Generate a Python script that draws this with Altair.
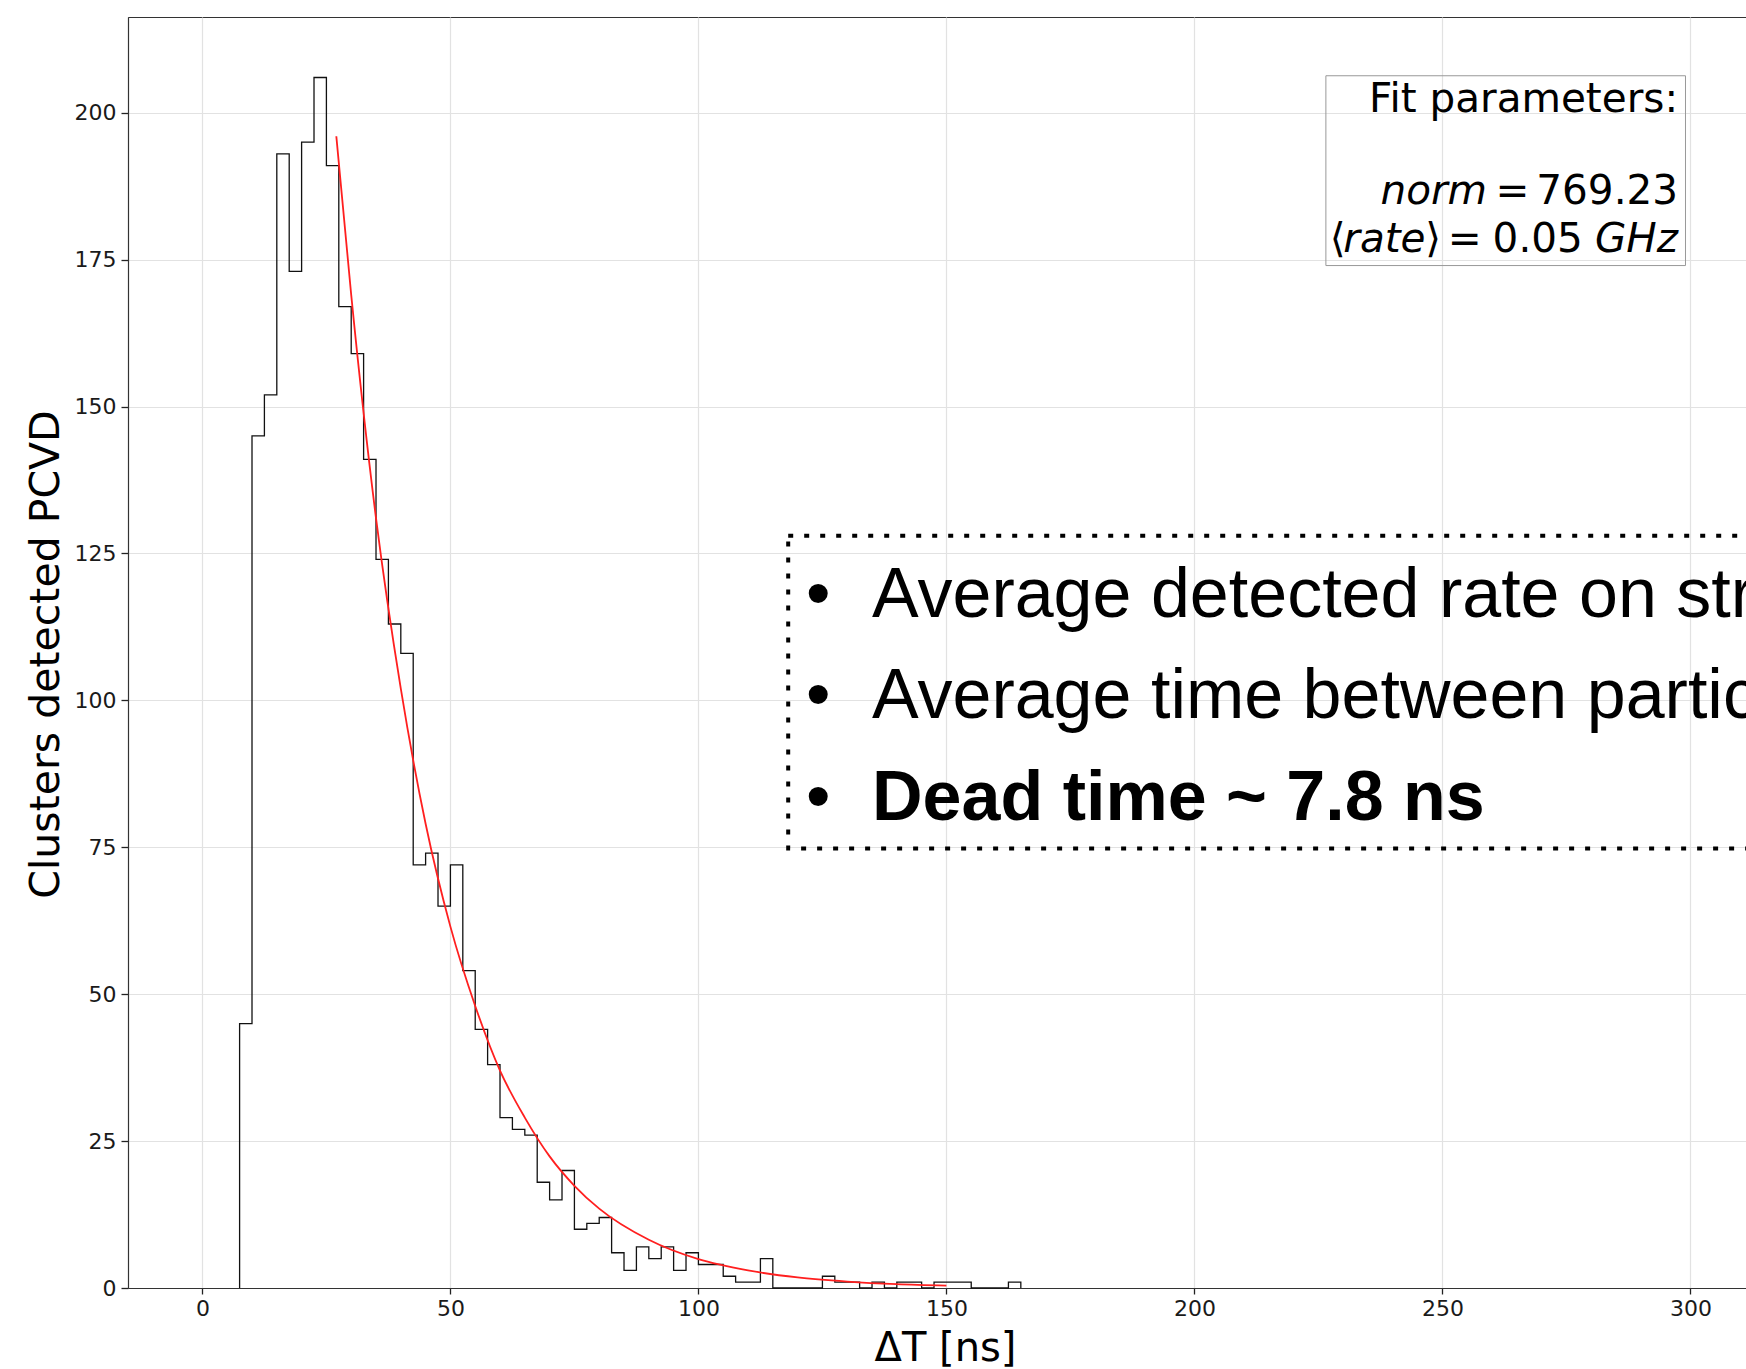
import altair as alt
import pandas as pd

# ---------------- data ----------------
# histogram: left edges of the 2.5 ns bins and the counts per bin
bin_left = [7.5, 10.0, 12.5, 15.0, 17.5, 20.0, 22.5, 25.0, 27.5, 30.0,
            32.5, 35.0, 37.5, 40.0, 42.5, 45.0, 47.5, 50.0, 52.5, 55.0,
            57.5, 60.0, 62.5, 65.0, 67.5, 70.0, 72.5, 75.0, 77.5, 80.0,
            82.5, 85.0, 87.5, 90.0, 92.5, 95.0, 97.5, 100.0, 102.5, 105.0,
            107.5, 110.0, 112.5, 115.0, 117.5, 120.0, 122.5, 125.0, 127.5, 130.0,
            132.5, 135.0, 137.5, 140.0, 142.5, 145.0, 147.5, 150.0, 152.5, 155.0,
            157.5, 160.0, 162.5]
bin_end = 165.0
counts = [45, 145, 152, 193, 173, 195, 206, 191, 167, 159,
          141, 124, 113, 108, 72, 74, 65, 72, 54, 44,
          38, 29, 27, 26, 18, 15, 20, 10, 11, 12,
          6, 3, 7, 5, 7, 3, 6, 4, 4, 2,
          1, 1, 5, 0, 0, 0, 0, 2, 1, 1,
          0, 1, 0, 1, 1, 0, 1, 1, 1, 0,
          0, 0, 1]

# fitted exponential curve
fit_x = [27, 30, 35, 40, 45, 50, 55, 60, 65, 70, 75, 80, 90, 100, 110, 120, 130, 140, 150]
fit_y = [196, 169, 131, 102, 79, 61.5, 48, 37, 29, 22.4, 17.4, 13.5, 8.2, 4.9, 3.0, 1.8, 1.1, 0.65, 0.4]

x_ticks = [0, 50, 100, 150, 200, 250, 300]
y_ticks = [0, 25, 50, 75, 100, 125, 150, 175, 200]

bullet_lines = ["Average detected rate on strips",
                "Average time between particles"]
bullet_bold = "Dead time ~ 7.8 ns"

# ---------------- tables ----------------
step_x = [bin_left[0]] + bin_left + [bin_end]
step_y = [0] + counts + [0]
hist_df = pd.DataFrame({"x": step_x, "y": step_y, "o": list(range(len(step_x)))})
fit_df = pd.DataFrame({"x": fit_x, "y": fit_y})

# ---------------- scales / axes ----------------
FONT = "DejaVu Sans"
xs = alt.Scale(domain=[-15, 311.2], nice=False, zero=False)
ys = alt.Scale(domain=[0, 216.3], nice=False, zero=False)
xaxis = alt.Axis(values=x_ticks, title="ΔT [ns]", grid=True, labelFlush=False,
                 tickSize=6, labelPadding=4, titleX=817, titleY=72,
                 titleBaseline="alphabetic")
yaxis = alt.Axis(values=y_ticks, title="Clusters detected PCVD", grid=True,
                 tickSize=7, labelPadding=5, titleX=-70, titleY=637,
                 titleBaseline="alphabetic", titleFontSize=41)
X = alt.X("x:Q", scale=xs, axis=xaxis)
Y = alt.Y("y:Q", scale=ys, axis=yaxis)


def text_layer(rows, **kw):
    df = pd.DataFrame(rows, columns=["x", "y", "t"])
    return alt.Chart(df).mark_text(**kw).encode(x=X, y=Y, text="t:N")


hist = alt.Chart(hist_df).mark_line(
    interpolate="step-after", color="#111111", strokeWidth=1.3
).encode(x=X, y=Y, order="o:Q")

fit = alt.Chart(fit_df).mark_line(
    interpolate="monotone", color="#ff1f1f", strokeWidth=1.8
).encode(x=X, y=Y)

# fit-parameter box
fbox = alt.Chart(pd.DataFrame({"x": [226.5], "x2": [299.0], "y": [206.3], "y2": [174.0]})).mark_rect(
    fillOpacity=0, stroke="#999999", strokeWidth=1
).encode(x=X, x2="x2:Q", y=Y, y2="y2:Q")

ftxt_reg = dict(font=FONT, fontSize=40.5, color="black", baseline="alphabetic")
f1 = text_layer([[297.5, 200.2, "Fit parameters:"]], align="right", **ftxt_reg)
f2a = text_layer([[259.0, 184.5, "norm"]], align="right", fontStyle="italic", **ftxt_reg)
f2b = text_layer([[264.1, 184.5, "="], [254.5, 176.3, "="]], align="center", **ftxt_reg)
f2c = text_layer([[297.5, 184.5, "769.23"], [278.3, 176.3, "0.05"]], align="right", **ftxt_reg)
f3a = text_layer([[227.3, 176.3, "⟨"]], align="left", **ftxt_reg)
f3b = text_layer([[230.0, 176.3, "rate"]], align="left", fontStyle="italic", **ftxt_reg)
f3c = text_layer([[249.7, 176.3, "⟩"]], align="right", **ftxt_reg)
f3d = text_layer([[297.5, 176.3, "GHz"]], align="right", fontStyle="italic", **ftxt_reg)

# dotted annotation box with bullet list
dbox = alt.Chart(pd.DataFrame({"x": [118.1], "x2": [340.0], "y": [128.0], "y2": [74.8]})).mark_rect(
    fillOpacity=0, stroke="black", strokeWidth=4, strokeDash=[5, 11], strokeCap="butt"
).encode(x=X, x2="x2:Q", y=Y, y2="y2:Q")

BFONT = "Liberation Sans"
bul = text_layer([[121.7, 114.2, "•"], [121.7, 97.0, "•"], [121.7, 79.6, "•"]],
                 align="left", baseline="alphabetic", font=BFONT, fontSize=70, color="black")
btxt = text_layer([[135.0, 114.2, bullet_lines[0]], [135.0, 97.0, bullet_lines[1]]],
                  align="left", baseline="alphabetic", font=BFONT, fontSize=70, color="black")
bbold = text_layer([[135.0, 79.6, bullet_bold]],
                   align="left", baseline="alphabetic", font=BFONT, fontSize=70,
                   fontWeight="bold", color="black")

chart = alt.layer(
    hist, fit, fbox, f1, f2a, f2b, f2c, f3a, f3b, f3c, f3d, dbox, bul, btxt, bbold
).properties(
    width=1618, height=1271,
    padding={"left": 128, "top": 17, "right": 0, "bottom": 81},
    autosize=alt.AutoSizeParams(type="none"),
    background="white",
).configure_view(
    stroke="#333333", strokeWidth=1
).configure_axis(
    labelFont=FONT, labelFontSize=22, labelColor="#1a1a1a",
    titleFont=FONT, titleFontSize=40, titleFontWeight="normal", titleColor="black",
    domainColor="#333333", domainWidth=1.2, tickColor="#222222", tickWidth=1.3,
    gridColor="#e2e2e2", gridWidth=1.2,
)

chart.save("out.html", embed_options={"renderer": "svg", "actions": False})
